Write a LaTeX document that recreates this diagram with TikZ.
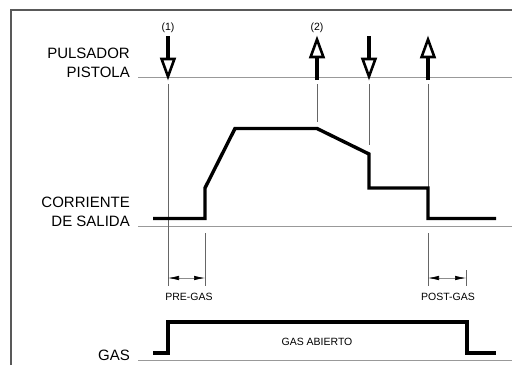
\documentclass[tikz,border=0pt]{standalone}
\usepackage{fontspec}
\setmainfont{Liberation Sans}
\usetikzlibrary{arrows.meta}
\begin{document}
\begin{tikzpicture}[x=1pt,y=-1pt,
  frame/.style={draw=black!65, line width=1.1pt},
  refline/.style={draw=black!40, line width=1pt},
  guide/.style={draw=black!60, line width=0.6pt},
  wave/.style={draw=black, line width=3.4pt, line join=miter},
  shaft/.style={draw=black, line width=3.8pt},
  headtri/.style={draw=black, fill=white, line width=2.6pt, line join=miter},
  big/.style={font=\fontsize{15}{18}\selectfont, inner sep=0pt},
  small/.style={font=\fontsize{10.5}{12}\selectfont, inner sep=0pt},
  dimline/.style={draw=black!45, line width=0.6pt,
     {Latex[length=11pt,width=4.5pt,black]}-{Latex[length=11pt,width=4.5pt,black]}}
]
\useasboundingbox (0,0) rectangle (512,365);
% frame
\draw[frame] (11,365) -- (11,10) -- (512,10);
% reference lines
\draw[refline] (138,77) -- (512,77);
\draw[refline] (138,226.5) -- (512,226.5);
\draw[refline] (138,360) -- (512,360);
% labels
\node[big, anchor=base east] (pulsador) at (130,58) {PULSADOR};
\node[big, anchor=base east] (pistola) at (130,77) {PISTOLA};
\node[big, anchor=base east] (corriente) at (130,207.5) {CORRIENTE};
\node[big, anchor=base east] (salida) at (130,226.5) {DE SALIDA};
\node[big, anchor=base east] (gas) at (130,360) {GAS};
% guides
\coordinate (g1a) at (168,84);  \coordinate (g1b) at (168,286);
\coordinate (g2a) at (317,84);  \coordinate (g2b) at (317,122);
\coordinate (g3a) at (369,84);  \coordinate (g3b) at (369,145);
\coordinate (g4a) at (428,84);  \coordinate (g4b) at (428,188);
\coordinate (g5a) at (428,233); \coordinate (g5b) at (428,286);
\coordinate (g6a) at (205,233); \coordinate (g6b) at (205,286);
\coordinate (g7a) at (466,270); \coordinate (g7b) at (466,286);
\draw[guide] (g1a) -- (g1b);
\draw[guide] (g2a) -- (g2b);
\draw[guide] (g3a) -- (g3b);
\draw[guide] (g4a) -- (g4b);
\draw[guide] (g5a) -- (g5b);
\draw[guide] (g6a) -- (g6b);
\draw[guide] (g7a) -- (g7b);
% dimension arrows
\coordinate (pa) at (168,278); \coordinate (pb) at (205,278);
\coordinate (qa) at (428,278); \coordinate (qb) at (466,278);
\draw[dimline] (pa) -- (pb);
\draw[dimline] (qa) -- (qb);
\node[small] (pregas) at (189,297) {PRE-GAS};
\node[small] (postgas) at (448,297) {POST-GAS};
% current waveform
\draw[wave] (153,218.5) -- (205,218.5) -- (205,188) -- (235,128.5) -- (317,128.5)
  -- (369,154) -- (369,188) -- (428,188) -- (428,218.5) -- (496,218.5);
% gas waveform
\draw[wave] (153,353) -- (168,353) -- (168,322) -- (467,322) -- (467,353) -- (496,353);
\node[small] (abierto) at (317,342) {GAS ABIERTO};
% push-button arrows
% down arrows
\foreach \x in {168,369} {
  \draw[shaft] (\x,36) -- (\x,60);
  \draw[headtri] (\x-6.4,59) -- (\x+6.4,59) -- (\x,76.5) -- cycle;
}
% up arrows
\foreach \x in {317,428} {
  \draw[shaft] (\x,80) -- (\x,57);
  \draw[headtri] (\x-6.4,57) -- (\x+6.4,57) -- (\x,39.5) -- cycle;
}
\node[small] (n1) at (168,27.5) {(1)};
\node[small] (n2) at (317,27.5) {(2)};
\end{tikzpicture}
\end{document}
